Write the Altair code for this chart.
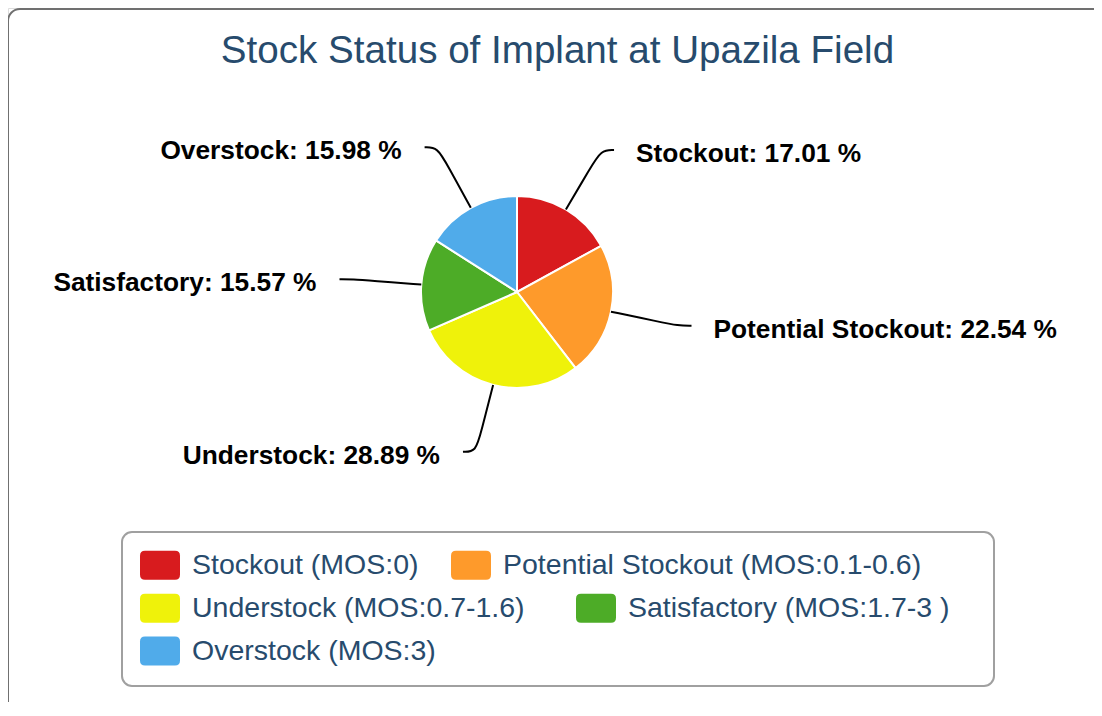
import altair as alt
import pandas as pd

# ---- data ----
names = ["Stockout", "Potential Stockout", "Understock", "Satisfactory", "Overstock"]
shares = [17.01, 22.54, 28.89, 15.57, 15.98]
legend_labels = [
    "Stockout (MOS:0)",
    "Potential Stockout (MOS:0.1-0.6)",
    "Understock (MOS:0.7-1.6)",
    "Satisfactory (MOS:1.7-3 )",
    "Overstock (MOS:3)",
]
colors = ["#d81b1e", "#fe9a2b", "#eff20a", "#4dac27", "#50abea"]
title_text = ["Stock Status of Implant at Upazila Field"]

df = pd.DataFrame({"name": names, "share": shares, "legend": legend_labels,
                   "idx": list(range(len(names)))})

# ---- layout constants ----
W, H = 1086, 694
CX, CY = 509, 284
R_PIE, R_LAB = 96, 165
FONT = "Liberation Sans"
TITLE_COLOR = "#274b6d"
# legend flow rows: (item indices, legendY, gap between items)
LEGEND_ROWS = [([0, 1], 537, 32), ([2, 3], 580, 51), ([4], 623, 34)]

RR_PATH = ("M-0.75,-0.725 L0.75,-0.725 Q1,-0.725 1,-0.475 L1,0.475 Q1,0.725 0.75,0.725 "
           "L-0.75,0.725 Q-1,0.725 -1,0.475 L-1,-0.475 Q-1,-0.725 -0.75,-0.725 Z")


def with_angles(ch):
    return (ch.transform_joinaggregate(total="sum(share)")
              .transform_window(cum="sum(share)", sort=[alt.SortField("idx")], frame=[None, 0])
              .transform_calculate(a="2*PI*(datum.cum - datum.share/2)/datum.total")
              .transform_calculate(s="sin(datum.a)", c="cos(datum.a)")
              .transform_calculate(xl=f"{CX} + {R_LAB}*datum.s",
                                   yl=f"{CY} - {R_LAB}*datum.c",
                                   label="datum.name + ': ' + format(datum.share, '.2f') + ' %'"))


base = alt.Chart(df)

frame = alt.Chart(pd.DataFrame({"k": [0]})).mark_rect(
    fill="white", stroke="#707070", strokeWidth=2, cornerRadius=12
).encode(x=alt.value(0), x2=alt.value(1110), y=alt.value(1), y2=alt.value(720))

legend_frame = alt.Chart(pd.DataFrame({"k": [0]})).mark_rect(
    fill="white", fillOpacity=0, stroke="#a0a0a0", strokeWidth=2, cornerRadius=10
).encode(x=alt.value(114), x2=alt.value(986), y=alt.value(524), y2=alt.value(678))

pie = base.mark_arc(radius=R_PIE, stroke="white", strokeWidth=2).encode(
    theta=alt.Theta("share:Q", stack=True),
    color=alt.Color("legend:N", scale=alt.Scale(domain=legend_labels, range=colors), legend=None),
    order=alt.Order("idx:Q"),
    x=alt.value(CX), y=alt.value(CY),
)


def legend_row(items, ly, gap):
    labs = [legend_labels[i] for i in items]
    cols = [colors[i] for i in items]
    leg = alt.Legend(
        title=None, orient="none", legendX=132, legendY=ly, direction="horizontal",
        symbolType=RR_PATH, symbolSize=1600, symbolStrokeWidth=0, symbolOpacity=1,
        labelFont=FONT, labelFontSize=28.5, labelColor=TITLE_COLOR, labelLimit=800,
        labelOffset=12, columnPadding=gap, padding=0,
    )
    return (base.transform_filter(alt.FieldOneOfPredicate(field="idx", oneOf=items))
            .mark_square(filled=True, size=10)
            .encode(x=alt.value(-500), y=alt.value(-500),
                    color=alt.Color("legend:N", scale=alt.Scale(domain=labs, range=cols), legend=leg)))


legend_layers = [legend_row(*r) for r in LEGEND_ROWS]

connectors = (with_angles(base)
              .transform_calculate(k0="0", k1="1", k2="2", k3="3")
              .transform_fold(["k0", "k1", "k2", "k3"], as_=["pt", "k"])
              .transform_calculate(
                  rr=f"datum.k == 0 ? {R_PIE} : (datum.k == 1 ? {R_PIE} + 0.7*({R_LAB}-{R_PIE}) : {R_LAB})")
              .transform_calculate(
                  px=f"{CX} + datum.rr*datum.s + (datum.k == 3 ? (datum.s >= 0 ? 13 : -13) : 0)",
                  py=f"{CY} - datum.rr*datum.c")
              .mark_line(interpolate="basis", color="black", strokeWidth=2)
              .encode(x=alt.X("px:Q", scale=None, axis=None),
                      y=alt.Y("py:Q", scale=None, axis=None),
                      detail="name:N", order="k:Q"))

lab_style = dict(baseline="alphabetic", dy=12, fontSize=26.3, fontWeight="bold", font=FONT, color="black")
labels_right = (with_angles(base).transform_filter("datum.s >= 0")
                .mark_text(align="left", dx=35, **lab_style)
                .encode(x=alt.X("xl:Q", scale=None, axis=None),
                        y=alt.Y("yl:Q", scale=None, axis=None), text="label:N"))
labels_left = (with_angles(base).transform_filter("datum.s < 0")
               .mark_text(align="right", dx=-36, **lab_style)
               .encode(x=alt.X("xl:Q", scale=None, axis=None),
                       y=alt.Y("yl:Q", scale=None, axis=None), text="label:N"))

title = alt.Chart(pd.DataFrame({"t": title_text})).mark_text(
    font=FONT, fontSize=38.6, color=TITLE_COLOR, align="center", baseline="alphabetic"
).encode(x=alt.value(549.5), y=alt.value(55), text="t:N")

chart = alt.layer(frame, legend_frame, pie, *legend_layers, connectors, labels_right, labels_left, title
).resolve_scale(color="independent").resolve_legend(color="independent").properties(
    width=W, height=H, autosize="none", padding=0
).configure_view(strokeWidth=0).configure(background="white")

chart.save("out.html", embed_options={"renderer": "svg", "actions": False})
